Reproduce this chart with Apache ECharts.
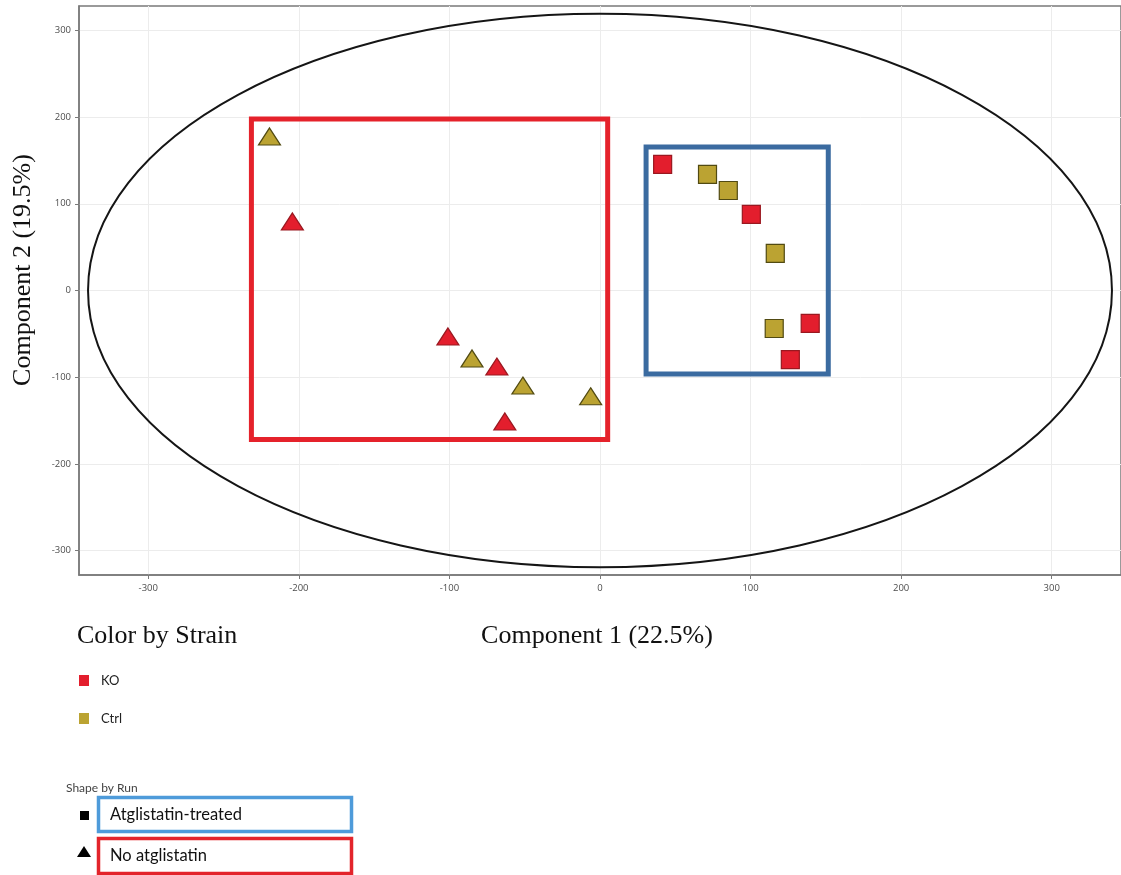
<!DOCTYPE html>
<html>
<head>
<meta charset="utf-8">
<script src="https://cdn.jsdelivr.net/npm/echarts@6/dist/echarts.min.js"></script>
<style>
  html, body { margin: 0; padding: 0; background: #fff; }
  #chart { width: 1121px; height: 875px; }
</style>
</head>
<body>
<div id="chart"></div>
<script>
// PCA scores: [Component 1, Component 2]
const koTreated     = [[41.6, 145.3], [100.5, 87.7], [139.6, -38], [126.4, -79.6]];
const ctrlTreated   = [[71.4, 133.8], [85.2, 115.3], [116.4, 42.7], [115.7, -43.8]];
const koUntreated   = [[-204.3, 79.6], [-101, -53], [-68.5, -87.7], [-63.2, -151]];
const ctrlUntreated = [[-219.5, 177.6], [-85, -78.4], [-51.2, -109.6], [-6.2, -122]];

// Confidence ellipse: centre and semi-axes in score units
const ellipseCenter = [0, 0];
const ellipseRadii = [340, 319];

// Group outlines: [xMin, yMin, xMax, yMax]
const treatedBox   = [30.6, -96.3, 151.6, 165.5];
const untreatedBox = [-231.5, -171.9, 5.1, 197.8];

const xTicks = [-300, -200, -100, 0, 100, 200, 300];
const yTicks = [-300, -200, -100, 0, 100, 200, 300];
const axisRange = { x: [-346, 346], y: [-328, 328] };

const strainNames = ['KO', 'Ctrl'];
const runNames = ['Atglistatin-treated', 'No atglistatin'];
const axisTitles = ['Component 1 (22.5%)', 'Component 2 (19.5%)'];

const KO_FILL = '#E31E2D', KO_EDGE = '#9A1820';
const CTRL_FILL = '#BBA332', CTRL_EDGE = '#514A12';

function boxPath(b) {
  return [[b[0], b[1]], [b[0], b[3]], [b[2], b[3]], [b[2], b[1]], [b[0], b[1]], [b[0], b[3]]];
}

const chart = echarts.init(document.getElementById('chart'));

const serifFont = '"Liberation Serif", "DejaVu Serif", serif';
const sansFont = 'Lato, "Open Sans", sans-serif';

function pointSeries(name, data, shape, fill, edge) {
  return {
    name: name,
    type: 'scatter',
    data: data,
    symbol: shape,
    symbolSize: shape === 'triangle' ? [22, 17] : 18,
    itemStyle: { color: fill, borderColor: edge, borderWidth: 1.2, opacity: 1 },
    z: 5
  };
}

function outlineSeries(box, color) {
  return {
    type: 'line',
    data: boxPath(box),
    showSymbol: false,
    symbol: 'none',
    lineStyle: { color: color, width: 5, cap: 'square', join: 'miter' },
    silent: true,
    z: 4
  };
}

function axisCommon(range, ticks) {
  return {
    type: 'value',
    min: range[0], max: range[1],
    axisLine: { show: true, onZero: false, lineStyle: { color: '#7a7a7a', width: 1.5 } },
    axisTick: { show: true, length: 4, lineStyle: { color: '#7a7a7a' }, customValues: ticks },
    axisLabel: { color: '#4d4d4d', fontSize: 9.5, fontFamily: '"Open Sans", sans-serif', margin: 8,
                 customValues: ticks },
    splitLine: { show: true, lineStyle: { color: '#ececec', width: 1 } }
  };
}

chart.setOption({
  animation: false,
  backgroundColor: '#fff',
  grid: {
    left: 79, right: -2, top: 6, bottom: 300,
    show: true, borderColor: '#7a7a7a', borderWidth: 1.5, backgroundColor: 'transparent'
  },
  xAxis: Object.assign(axisCommon(axisRange.x, xTicks), { interval: 100 }),
  yAxis: Object.assign(axisCommon(axisRange.y, yTicks), { interval: 100 }),
  legend: {
    orient: 'vertical',
    left: 79, top: 674,
    padding: 0,
    itemWidth: 10, itemHeight: 11,
    itemGap: 25,
    data: strainNames.map(n => ({ name: n, icon: 'rect' })),
    itemStyle: { borderWidth: 0 },
    textStyle: { fontFamily: sansFont, fontSize: 13, color: '#222', lineHeight: 12, padding: [0, 0, 0, 7] },
    selectedMode: false
  },
  series: [
    {
      type: 'custom',
      silent: true,
      z: 3,
      data: [ellipseCenter],
      renderItem: function (params, api) {
        const c = api.coord([api.value(0), api.value(1)]);
        const s = api.size(ellipseRadii);
        return {
          type: 'ellipse',
          shape: { cx: c[0], cy: c[1], rx: s[0], ry: s[1] },
          style: { fill: 'none', stroke: '#151515', lineWidth: 2 }
        };
      }
    },
    outlineSeries(untreatedBox, '#E5222B'),
    outlineSeries(treatedBox, '#3B6BA0'),
    pointSeries(strainNames[0], koTreated, 'rect', KO_FILL, KO_EDGE),
    pointSeries(strainNames[1], ctrlTreated, 'rect', CTRL_FILL, CTRL_EDGE),
    pointSeries(strainNames[0], koUntreated, 'triangle', KO_FILL, KO_EDGE),
    pointSeries(strainNames[1], ctrlUntreated, 'triangle', CTRL_FILL, CTRL_EDGE)
  ],
  graphic: [
    // axis titles
    { type: 'text', x: 597, y: 636, style: {
        text: axisTitles[0], font: '26px ' + serifFont, fill: '#111',
        align: 'center', verticalAlign: 'middle' }, z: 10 },
    { type: 'text', x: 23, y: 270, rotation: Math.PI / 2, style: {
        text: axisTitles[1], font: '26px ' + serifFont, fill: '#111',
        align: 'center', verticalAlign: 'middle' }, z: 10 },
    // colour legend heading
    { type: 'text', x: 77, y: 636, style: {
        text: 'Color by Strain', font: '26px ' + serifFont, fill: '#111',
        align: 'left', verticalAlign: 'middle' }, z: 10 },
    // shape legend
    { type: 'text', x: 66, y: 788, style: {
        text: 'Shape by Run', font: '12px ' + sansFont, fill: '#444',
        align: 'left', verticalAlign: 'middle' }, z: 10 },
    { type: 'rect', shape: { x: 80, y: 811, width: 9, height: 9 }, style: { fill: '#000' }, z: 10 },
    { type: 'rect', shape: { x: 98.5, y: 797.5, width: 253, height: 34 },
      style: { fill: 'none', stroke: '#4E9BDA', lineWidth: 3.5 }, z: 10 },
    { type: 'text', x: 110, y: 815, style: {
        text: runNames[0], font: '16.5px ' + sansFont, fill: '#111',
        align: 'left', verticalAlign: 'middle' }, z: 10 },
    { type: 'polygon', shape: { points: [[77, 857], [91, 857], [84, 846]] }, style: { fill: '#000' }, z: 10 },
    { type: 'rect', shape: { x: 98.5, y: 838.5, width: 253, height: 35 },
      style: { fill: 'none', stroke: '#E3242B', lineWidth: 3.5 }, z: 10 },
    { type: 'text', x: 110, y: 856, style: {
        text: runNames[1], font: '16.5px ' + sansFont, fill: '#111',
        align: 'left', verticalAlign: 'middle' }, z: 10 }
  ]
});
</script>
</body>
</html>
